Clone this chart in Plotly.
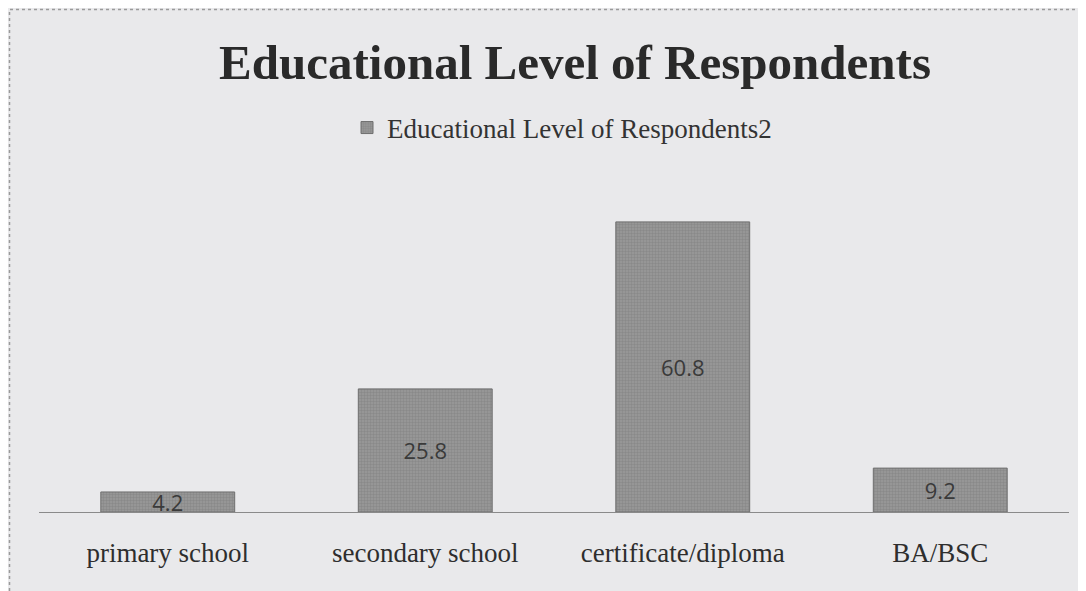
import plotly.graph_objects as go

categories = ["primary school", "secondary school", "certificate/diploma", "BA/BSC"]
values = [4.2, 25.8, 60.8, 9.2]
series_name = "Educational Level of Respondents2"
title_text = "Educational Level of Respondents"
label_text = [f"{v:.1f}" for v in values]

# page body has an 8px margin; figure sized to fit the window
W, H = 1078, 583
OFF = 8

fig = go.Figure()
fig.add_trace(go.Bar(
    x=categories, y=values, name=series_name,
    text=label_text, textposition="inside", insidetextanchor="middle",
    textfont=dict(family="Open Sans", size=22, color="#3a3a3a"),
    marker=dict(color="#8e8e8e", line=dict(color="#6f6f6f", width=1),
                pattern=dict(shape=".", fgcolor="#7a7a7a", bgcolor="#999999", size=3, solidity=0.5)),
    width=0.52, showlegend=True,
))

bg = "#e9e9eb"
fig.update_layout(
    width=W, height=H,
    paper_bgcolor=bg, plot_bgcolor=bg,
    margin=dict(l=39 - OFF, r=17, t=178 - OFF, b=79),
    uniformtext=dict(minsize=22, mode="show"),
    title=dict(text=title_text, x=(575 - OFF) / W, xanchor="center", y=1 - (62 - OFF) / H, yanchor="middle",
               font=dict(family="Liberation Serif", size=49, color="#2a2a2a", weight="bold")),
    legend=dict(orientation="h", x=(562 - 39) / 1030, xanchor="center", y=(512 - 128) / 334, yanchor="middle",
                font=dict(family="Liberation Serif", size=27, color="#333333"),
                bgcolor="rgba(0,0,0,0)", itemwidth=30),
    xaxis=dict(showgrid=False, showline=True, linecolor="#8a8a8a", linewidth=1,
               ticks="", tickfont=dict(family="Liberation Serif", size=27, color="#2e2e2e"),
               ticklabelstandoff=17),
    yaxis=dict(range=[0, 70], visible=False, showgrid=False),
    bargap=0.48,
    shapes=[dict(type="rect", xref="paper", yref="paper",
                 x0=(9.5 - 39) / 1030, x1=(1084 - 39) / 1030, y0=(512 - 600) / 334, y1=(512 - 9.5) / 334,
                 line=dict(color="#9a9a9a", width=1.5, dash="dot"), fillcolor="rgba(0,0,0,0)")],
)
fig.write_html("out.html")
